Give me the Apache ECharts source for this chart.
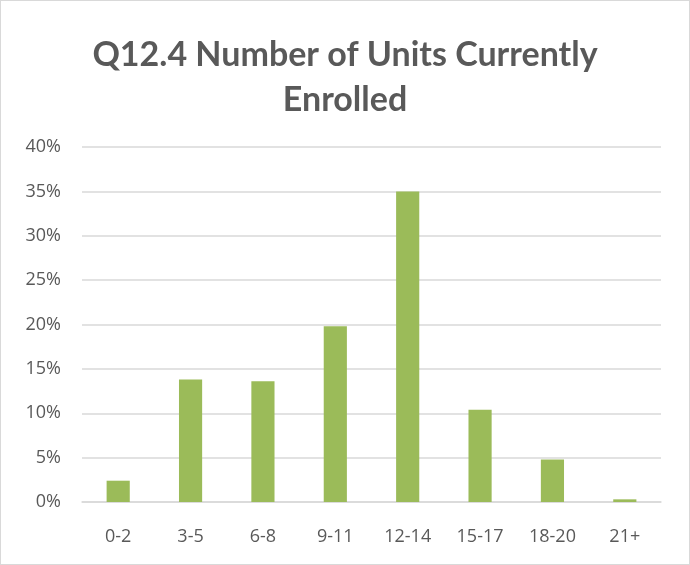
<!DOCTYPE html>
<html>
<head>
<meta charset="utf-8">
<script src="https://cdn.jsdelivr.net/npm/echarts@6/dist/echarts.min.js"></script>
<style>
  html, body { margin: 0; padding: 0; background: #fff; }
  #container { width: 688px; height: 563px; border: 1px solid #d9d9d9; }
</style>
</head>
<body>
<div id="container"></div>
<script>
var categories = ['0-2', '3-5', '6-8', '9-11', '12-14', '15-17', '18-20', '21+'];
var shares = [2.4, 13.8, 13.6, 19.8, 35.0, 10.4, 4.8, 0.3];
var yTicks = [0, 5, 10, 15, 20, 25, 30, 35, 40];

var myChart = echarts.init(document.getElementById('container'));
var option = {
    title: {
        text: 'Q12.4 Number of Units Currently\nEnrolled',
        left: 'center',
        top: 27,
        textStyle: {
            fontFamily: 'Lato',
            fontWeight: 'bold',
            fontSize: 34,
            color: '#595959',
            lineHeight: 45
        }
    },
    grid: {
        left: 81,
        right: 28,
        top: 146,
        bottom: 62
    },
    xAxis: {
        type: 'category',
        data: categories,
        axisTick: { show: false },
        axisLine: { lineStyle: { color: '#d9d9d9', width: 1.5 } },
        axisLabel: {
            color: '#595959',
            fontFamily: 'Open Sans',
            fontSize: 18,
            margin: 26
        }
    },
    yAxis: {
        type: 'value',
        min: yTicks[0],
        max: yTicks[yTicks.length - 1],
        interval: 5,
        axisLine: { show: false },
        axisTick: { show: false },
        splitLine: { lineStyle: { color: '#d9d9d9', width: 1.5 } },
        axisLabel: {
            color: '#595959',
            fontFamily: 'Open Sans',
            fontSize: 18,
            margin: 21,
            formatter: '{value}%'
        }
    },
    series: [{
        type: 'bar',
        data: shares,
        barWidth: '32%',
        itemStyle: { color: '#9BBB59' }
    }]
};
myChart.setOption(option);
</script>
</body>
</html>
